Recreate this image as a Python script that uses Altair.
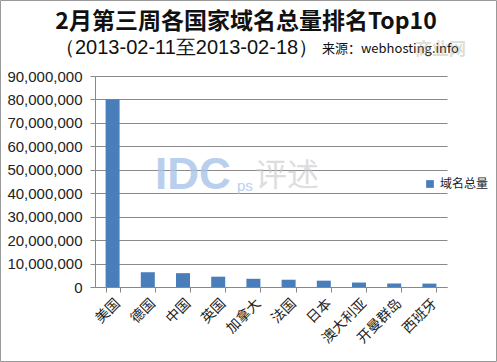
import altair as alt
import pandas as pd

countries = ["美国", "德国", "中国", "英国", "加拿大", "法国", "日本", "澳大利亚", "开曼群岛", "西班牙"]
totals = [80000000, 6300000, 5900000, 4400000, 3500000, 3100000, 2700000, 1900000, 1500000, 1450000]
series_name = "域名总量"
y_ticks = [0, 10000000, 20000000, 30000000, 40000000, 50000000, 60000000, 70000000, 80000000, 90000000]

df = pd.DataFrame({"国家": countries, "总量": totals, "系列": [series_name] * len(countries)})

W, H = 352, 211
PL, PT = 95, 76
FONT = "Noto Sans CJK SC"

bars = alt.Chart(df).mark_bar(size=14).encode(
    x=alt.X("国家:N", sort=countries, title=None,
            scale=alt.Scale(paddingInner=0.6, paddingOuter=0.3),
            axis=alt.Axis(labelAngle=-45, labelFont=FONT, labelFontSize=14, labelColor="#222",
                          tickBand="extent", tickSize=5, tickColor="#888", domainColor="#888",
                          labelPadding=4, grid=False)),
    y=alt.Y("总量:Q", title=None,
            scale=alt.Scale(domain=[0, 90000000], nice=False),
            axis=alt.Axis(values=y_ticks, format=",d", labelFont="Liberation Sans", labelFontSize=15,
                          labelColor="#222", tickSize=5, tickColor="#888", domainColor="#888",
                          gridColor="#8a8a8a", labelPadding=8)),
    color=alt.Color("系列:N", scale=alt.Scale(domain=[series_name], range=["#4a7ebb"]),
                    legend=alt.Legend(title=None, orient="none", legendX=326, legendY=99,
                                      symbolType="square", symbolSize=60, labelFont=FONT,
                                      labelFontSize=12, labelColor="#222", fillColor="white",
                                      padding=3)),
)

one = pd.DataFrame({"k": [0]})

def txt(s, x, y, size, weight="normal", color="#111", align="left", font=FONT, opacity=1.0):
    return alt.Chart(one).mark_text(text=s, fontSize=size, fontWeight=weight, color=color,
                                    align=align, baseline="middle", font=font, opacity=opacity).encode(
        x=alt.value(x), y=alt.value(y))

title = txt("2月第三周各国家域名总量排名Top10", 151, -54, 23, weight="bold", align="center")
sub = txt("（2013-02-11至2013-02-18）", -40, -28, 20, font="Liberation Sans")
src = txt("来源：webhosting.info", 227, -27, 13)
logo = txt("商业网", 320, -26, 17, weight="bold", color="#9aa89a", opacity=0.35)
wm1 = txt("IDC", 60, 100, 44, weight="bold", color="#a8c4ea", font="Liberation Sans", opacity=0.8)
wm2 = txt("ps", 142, 110, 15, color="#a8c4ea", font="Liberation Sans", opacity=0.8)
wm3 = txt("评述", 160, 100, 32, color="#c8c8c8", opacity=0.6)

frame = alt.Chart(one).mark_rect(fill=None, stroke="#999", strokeWidth=1).encode(
    x=alt.value(-PL + 0.5), x2=alt.value(W + 49.5), y=alt.value(-PT + 0.5), y2=alt.value(H + 74.5))

chart = alt.layer(bars, wm1, wm2, wm3, title, sub, src, logo, frame).properties(
    width=W, height=H, padding={"left": PL, "top": PT, "right": 497 - PL - W, "bottom": 362 - PT - H},
    autosize=alt.AutoSizeParams(type="none"), background="white"
).configure_view(stroke=None)

chart.save("out.html", embed_options={"renderer": "svg", "actions": False})
